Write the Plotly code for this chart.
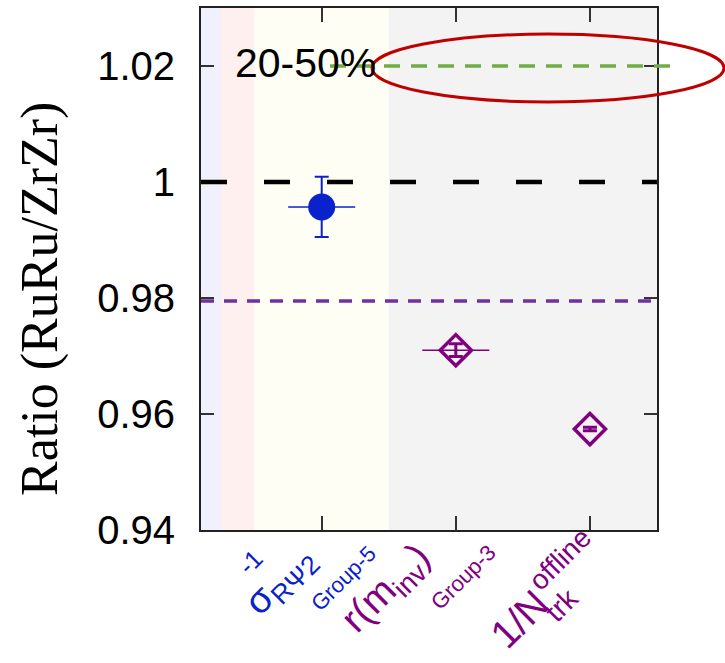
import plotly.graph_objects as go

# ---- data ----
blue_x = [1]
blue_y = [0.9957]
blue_err = [0.0052]
blue_xerr = [0.25]

purple_x = [2, 3]
purple_y = [0.9710, 0.9574]
purple_err = [0.0011, 0.0003]
purple_xerr = [0.25, 0.0]

ref_levels = {"unity": 1.0, "purple": 0.9795, "green": 1.02}

band_edges = [(0.1, 0.25), (0.25, 0.5), (0.5, 1.5), (1.5, 3.5)]
band_colors = ["#f1f1fd", "#fff0f0", "#fefef4", "#f3f3f3"]

y_tickvals = [0.94, 0.96, 0.98, 1.0, 1.02]
y_ticktext = ["0.94", "0.96", "0.98", "1", "1.02"]
x_tickvals = [1, 2, 3]

label_texts = ["σ<sub>RΨ2</sub>", "-1", "Group-5",
               "r(m<sub>inv</sub>)", "Group-3",
               "1/N", "trk", "offline"]

BLUE = "#0a22cc"
PURPLE = "#800080"

W, H = 725, 663
ML, MR, MT, MB = 201, 68, 6, 133
PW, PH = W - ML - MR, H - MT - MB


def fx(px):
    return (px - ML) / PW


def fy(py):
    return (H - MB - py) / PH


fig = go.Figure()

fig.add_trace(go.Scatter(
    x=blue_x, y=blue_y, mode="markers",
    marker=dict(symbol="circle", size=27, color=BLUE),
    error_y=dict(type="data", array=blue_err, color=BLUE, thickness=2, width=7),
    error_x=dict(type="data", array=blue_xerr, color=BLUE, thickness=1.5, width=0),
    showlegend=False,
))
fig.add_trace(go.Scatter(
    x=purple_x, y=purple_y, mode="markers",
    marker=dict(symbol="diamond-open", size=24, color=PURPLE, line=dict(width=3.5, color=PURPLE)),
    error_y=dict(type="data", array=purple_err, color=PURPLE, thickness=3, width=7),
    error_x=dict(type="data", array=purple_xerr, color=PURPLE, thickness=1.5, width=0),
    showlegend=False,
))

shapes = []
for (a, b), c in zip(band_edges, band_colors):
    shapes.append(dict(type="rect", xref="x", yref="paper", x0=a, x1=b, y0=0, y1=1,
                       fillcolor=c, line=dict(width=0), layer="below"))
shapes.append(dict(type="line", xref="paper", yref="y", x0=0, x1=1,
                   y0=ref_levels["unity"], y1=ref_levels["unity"],
                   line=dict(color="black", width=4.5, dash="26px,37px")))
shapes.append(dict(type="line", xref="paper", yref="y", x0=0, x1=1,
                   y0=ref_levels["purple"], y1=ref_levels["purple"],
                   line=dict(color="#7030a0", width=3.5, dash="13px,10px")))
shapes.append(dict(type="line", xref="paper", yref="y", x0=fx(330), x1=fx(680),
                   y0=ref_levels["green"], y1=ref_levels["green"],
                   line=dict(color="#70ad47", width=3.5, dash="16px,11px")))
shapes.append(dict(type="circle", xref="paper", yref="y", x0=fx(372), x1=fx(724),
                   y0=1.0138, y1=1.0255, line=dict(color="#c00000", width=3)))

annotations = [
    dict(text="20-50%", xref="paper", yref="y", x=fx(233), y=1.0205,
         xanchor="left", yanchor="middle", showarrow=False,
         font=dict(family="Liberation Sans, Arial", size=41, color="black")),
    dict(text="Ratio (RuRu/ZrZr)", xref="paper", yref="paper", x=fx(40), y=fy(298),
         xanchor="center", yanchor="middle", textangle=-90, showarrow=False,
         font=dict(family="Liberation Serif, Times New Roman", size=52, color="black")),
]

# (centre x px, centre y px, font size, colour, estimated rotated box size px)
label_styles = [
    (280, 583, 38, BLUE, 95),
    (250, 562, 25, BLUE, 41),
    (343, 579, 22, BLUE, 80),
    (388, 589, 39, PURPLE, 117),
    (463, 578, 22, PURPLE, 80),
    (519, 619, 40, PURPLE, 81),
    (562, 606, 29, PURPLE, 50),
    (559, 559, 28, PURPLE, 81),
]
for t, (cx, cy, s, c, b) in zip(label_texts, label_styles):
    # plotly picks the anchor automatically for paper refs: left / center / right
    if fx(cx - b / 2) <= 1 / 3:
        ax_px = cx - b / 2
    elif fx(cx + b / 2) >= 2 / 3:
        ax_px = cx + b / 2
    else:
        ax_px = cx
    ay_px = cy + b / 2  # bottom anchored
    annotations.append(dict(text=t, xref="paper", yref="paper", x=fx(ax_px), y=fy(ay_px),
                            textangle=-45, showarrow=False,
                            font=dict(family="Liberation Sans, Arial", size=s, color=c)))

fig.update_layout(
    width=W, height=H,
    margin=dict(l=ML, r=MR, t=MT, b=MB),
    paper_bgcolor="white", plot_bgcolor="white",
    shapes=shapes, annotations=annotations,
    xaxis=dict(range=[0.1, 3.5], tickvals=x_tickvals, showticklabels=False,
               ticks="inside", ticklen=14, tickwidth=1.5, tickcolor="#333",
               showline=True, linecolor="#222", linewidth=2, mirror="ticks",
               showgrid=False, zeroline=False),
    yaxis=dict(range=[0.94, 1.03], tickvals=y_tickvals, ticktext=y_ticktext,
               ticks="inside", ticklen=13, tickwidth=1.5, tickcolor="#333",
               showline=True, linecolor="#222", linewidth=2, mirror="ticks",
               showgrid=False, zeroline=False, ticklabelstandoff=16,
               tickfont=dict(family="Liberation Sans, Arial", size=40, color="black")),
)

fig.write_html("out.html")
